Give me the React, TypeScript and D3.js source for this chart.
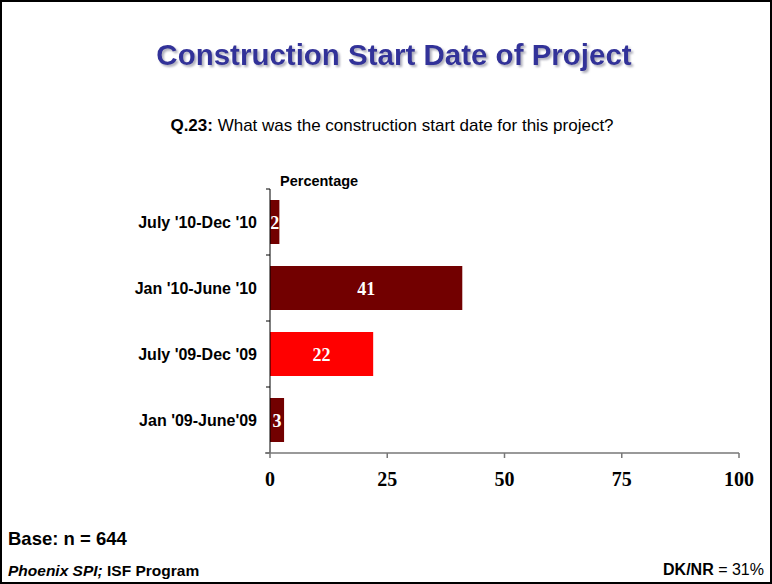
import React from "react";
import * as d3 from "d3";

const categories = ["July '10-Dec '10", "Jan '10-June '10", "July '09-Dec '09", "Jan '09-June'09"];
const values = [2, 41, 22, 3];
const barColors = ["#720000", "#720000", "#FF0000", "#720000"];
const xTicks = [0, 25, 50, 75, 100];

export default function App() {
  const W = 772, H = 584;
  const x0 = 270, x1 = 739, yTop = 189, yBot = 453;
  const x = d3.scaleLinear().domain([0, 100]).range([x0, x1]);
  const y = d3.scaleBand<string>().domain(categories).range([yTop, yBot]).paddingInner(1 / 3).paddingOuter(1 / 6);
  const step = y.step();
  const bandEdges = d3.range(categories.length + 1).map((i) => yTop + i * step);
  const arial = "Arial, 'Liberation Sans', Helvetica, sans-serif";
  const times = "'Times New Roman', 'Liberation Serif', serif";

  return (
    <svg width={W} height={H} style={{ position: "absolute", left: 0, top: 0, background: "#fff" }}>
      <defs>
        <filter id="titleShadow" x="-5%" y="-30%" width="110%" height="160%">
          <feDropShadow dx={2} dy={2} stdDeviation={1} floodColor="#9a9aaa" floodOpacity={0.8} />
        </filter>
      </defs>
      <rect x={1} y={1} width={W - 2} height={H - 2} fill="#fff" stroke="#000" strokeWidth={2} />
      {/* Title */}
      <text
        x={394}
        y={65}
        fontFamily={arial}
        fontWeight="bold"
        fontSize={29.5}
        textAnchor="middle"
        fill="#333399"
        filter="url(#titleShadow)"
      >
        Construction Start Date of Project
      </text>
      <text x={392} y={131} fontFamily={arial} fontSize={17} textAnchor="middle" fill="#000">
        <tspan fontWeight="bold">Q.23:</tspan> What was the construction start date for this project?
      </text>
      <text x={280} y={186} fontFamily={arial} fontSize={14.5} fontWeight="bold" fill="#000">Percentage</text>

      {/* Bars */}
      {categories.map((c, i) => (
        <g key={c}>
          <rect x={x(0)} y={y(c)} width={x(values[i]) - x(0)} height={y.bandwidth()} fill={barColors[i]} />
          <text
            x={(x(0) + x(values[i])) / 2}
            y={(y(c) as number) + y.bandwidth() / 2 + 7}
            fontFamily={times}
            fontWeight="bold"
            fontSize={18}
            fill="#fff"
            textAnchor="middle"
          >
            {values[i]}
          </text>
          <text
            x={257}
            y={(y(c) as number) + y.bandwidth() / 2 + 6}
            fontFamily={arial}
            fontWeight="bold"
            fontSize={16}
            fill="#000"
            textAnchor="end"
          >
            {c}
          </text>
        </g>
      ))}

      {/* Y axis */}
      <line x1={x0} x2={x0} y1={yTop} y2={yBot} stroke="#000" strokeWidth={1} />
      {bandEdges.map((e, i) => (
        <line key={i} x1={x0 - 4} x2={x0} y1={e} y2={e} stroke="#000" strokeWidth={1} />
      ))}

      {/* X axis */}
      <line x1={x0 - 5} x2={x1} y1={yBot} y2={yBot} stroke="#777" strokeWidth={1.5} />
      {xTicks.map((t) => (
        <g key={t}>
          <line x1={x(t)} x2={x(t)} y1={yBot} y2={yBot + 5} stroke="#777" strokeWidth={1.5} />
          <text x={x(t)} y={486} fontFamily={times} fontWeight="bold" fontSize={20} textAnchor="middle" fill="#000">
            {t}
          </text>
        </g>
      ))}

      {/* Footer */}
      <text x={8} y={545} fontFamily={arial} fontWeight="bold" fontSize={18.5} fill="#000">Base: n = 644</text>
      <text x={8} y={576} fontFamily={arial} fontWeight="bold" fontSize={15.5} fill="#000">
        <tspan fontStyle="italic">Phoenix SPI;</tspan> ISF Program
      </text>
      <text x={764} y={575} fontFamily={arial} fontSize={16} textAnchor="end" fill="#000">
        <tspan fontWeight="bold">DK/NR</tspan> = 31%
      </text>
    </svg>
  );
}
